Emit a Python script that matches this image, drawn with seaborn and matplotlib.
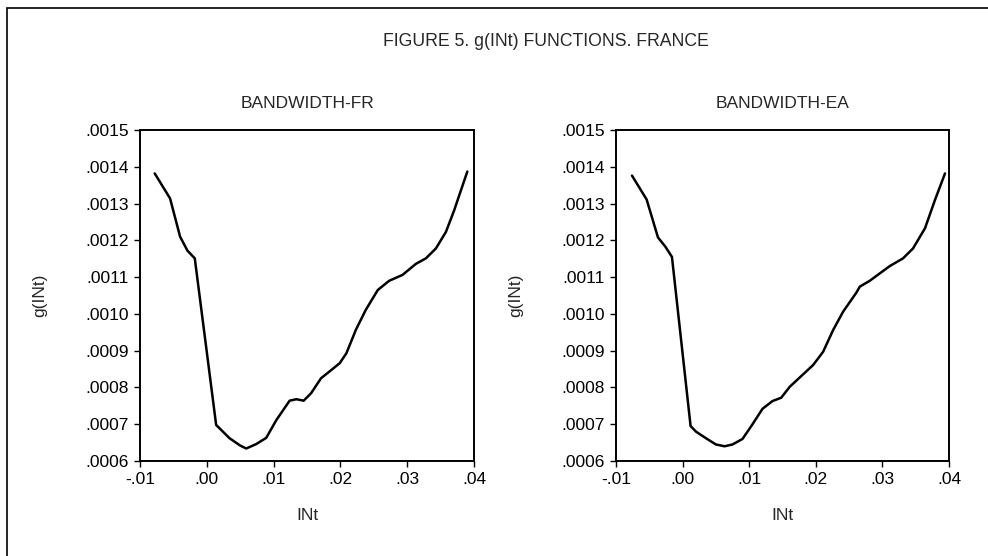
import matplotlib
matplotlib.use("Agg")
import matplotlib.pyplot as plt
import matplotlib.patches as mpatches
from matplotlib.ticker import FuncFormatter, MultipleLocator
import pandas as pd
import seaborn as sns

# values
fr_x = [-0.0078, -0.0055, -0.0040, -0.0029, -0.0018, 0.0014, 0.0034, 0.0050, 0.0059,
        0.0074, 0.0089, 0.0104, 0.0124, 0.0134, 0.0145, 0.0156, 0.0171, 0.0180,
        0.0199, 0.0209, 0.0223, 0.0238, 0.0256, 0.0273, 0.0293, 0.0313, 0.0328,
        0.0343, 0.0358, 0.0370, 0.0390]
fr_y = [0.001382, 0.001314, 0.001210, 0.001172, 0.001151, 0.000698, 0.000662, 0.000642, 0.000634,
        0.000646, 0.000663, 0.000711, 0.000764, 0.000768, 0.000764, 0.000784, 0.000825, 0.000838,
        0.000866, 0.000893, 0.000956, 0.001011, 0.001065, 0.001090, 0.001106, 0.001136, 0.001151,
        0.001178, 0.001223, 0.001280, 0.001387]

ea_x = [-0.0076, -0.0054, -0.0037, -0.0026, -0.0016, 0.0012, 0.0020, 0.0035, 0.0050,
        0.0063, 0.0075, 0.0090, 0.0105, 0.0120, 0.0135, 0.0148, 0.0161, 0.0177,
        0.0196, 0.0211, 0.0226, 0.0241, 0.0261, 0.0266, 0.0281, 0.0311, 0.0331,
        0.0346, 0.0364, 0.0379, 0.0394]
ea_y = [0.001376, 0.001311, 0.001208, 0.001183, 0.001155, 0.000695, 0.000680, 0.000662, 0.000645,
        0.000640, 0.000645, 0.000660, 0.000700, 0.000742, 0.000763, 0.000772, 0.000802, 0.000829,
        0.000861, 0.000897, 0.000956, 0.001006, 0.001058, 0.001074, 0.001090, 0.001130, 0.001151,
        0.001178, 0.001233, 0.001310, 0.001382]

panel_titles = ["BANDWIDTH-FR", "BANDWIDTH-EA"]
main_title = "FIGURE 5. g(INt) FUNCTIONS. FRANCE"
x_label = "INt"
y_label = "g(INt)"

sns.set_style("ticks")
plt.rcParams["font.family"] = ["Liberation Sans", "DejaVu Sans"]
plt.rcParams["font.size"] = 12.5


# EViews style labels without the leading zero: .0015, -.01
def fmt4(v, pos):
    return f"{v:.4f}".replace("0.", ".", 1)


def fmt2(v, pos):
    return f"{v:.2f}".replace("0.", ".", 1)


W, H = 988, 556
fig = plt.figure(figsize=(W / 100, H / 100), dpi=100)

# outer frame (only the top and left edges fall inside the image)
fig.add_artist(mpatches.Rectangle((7 / W, -0.1), 1.2, 1 - 8 / H + 0.1, fill=False,
                                  edgecolor="black", linewidth=1.2, transform=fig.transFigure))

boxes = [(140, 474), (616, 949)]
data = [(fr_x, fr_y), (ea_x, ea_y)]
top_px, bot_px = 130, 461

for (x0, x1), (xs, ys), title in zip(boxes, data, panel_titles):
    ax = fig.add_axes([x0 / W, (H - bot_px) / H, (x1 - x0) / W, (bot_px - top_px) / H])
    df = pd.DataFrame({"x": xs, "y": ys})
    sns.lineplot(data=df, x="x", y="y", ax=ax, color="black", linewidth=1.8,
                 estimator=None, sort=False)
    ax.set_xlim(-0.01, 0.04)
    ax.set_ylim(0.0006, 0.0015)
    ax.xaxis.set_major_locator(MultipleLocator(0.01))
    ax.yaxis.set_major_locator(MultipleLocator(0.0001))
    ax.xaxis.set_major_formatter(FuncFormatter(fmt2))
    ax.yaxis.set_major_formatter(FuncFormatter(fmt4))
    ax.tick_params(direction="out", length=4.5, width=1.0, pad=3.5, labelsize=12.5,
                   color="black", labelcolor="black")
    for sp in ax.spines.values():
        sp.set_visible(True)
        sp.set_linewidth(1.4)
        sp.set_color("black")
    ax.set_title(title, fontsize=12.5, pad=16)
    ax.set_xlabel(x_label, fontsize=12.5)
    ax.set_ylabel(y_label, fontsize=12.5)
    w = x1 - x0
    ax.xaxis.set_label_coords(0.5, -(515 - bot_px) / (bot_px - top_px))
    ax.xaxis.label.set_va("center")
    ax.yaxis.set_label_coords(-100 / w, 0.5)
    ax.yaxis.label.set_va("center")

fig.text(546 / W, 1 - 42 / H, main_title, ha="center", va="center", fontsize=12.7)

fig.savefig("out.png", dpi=100)
